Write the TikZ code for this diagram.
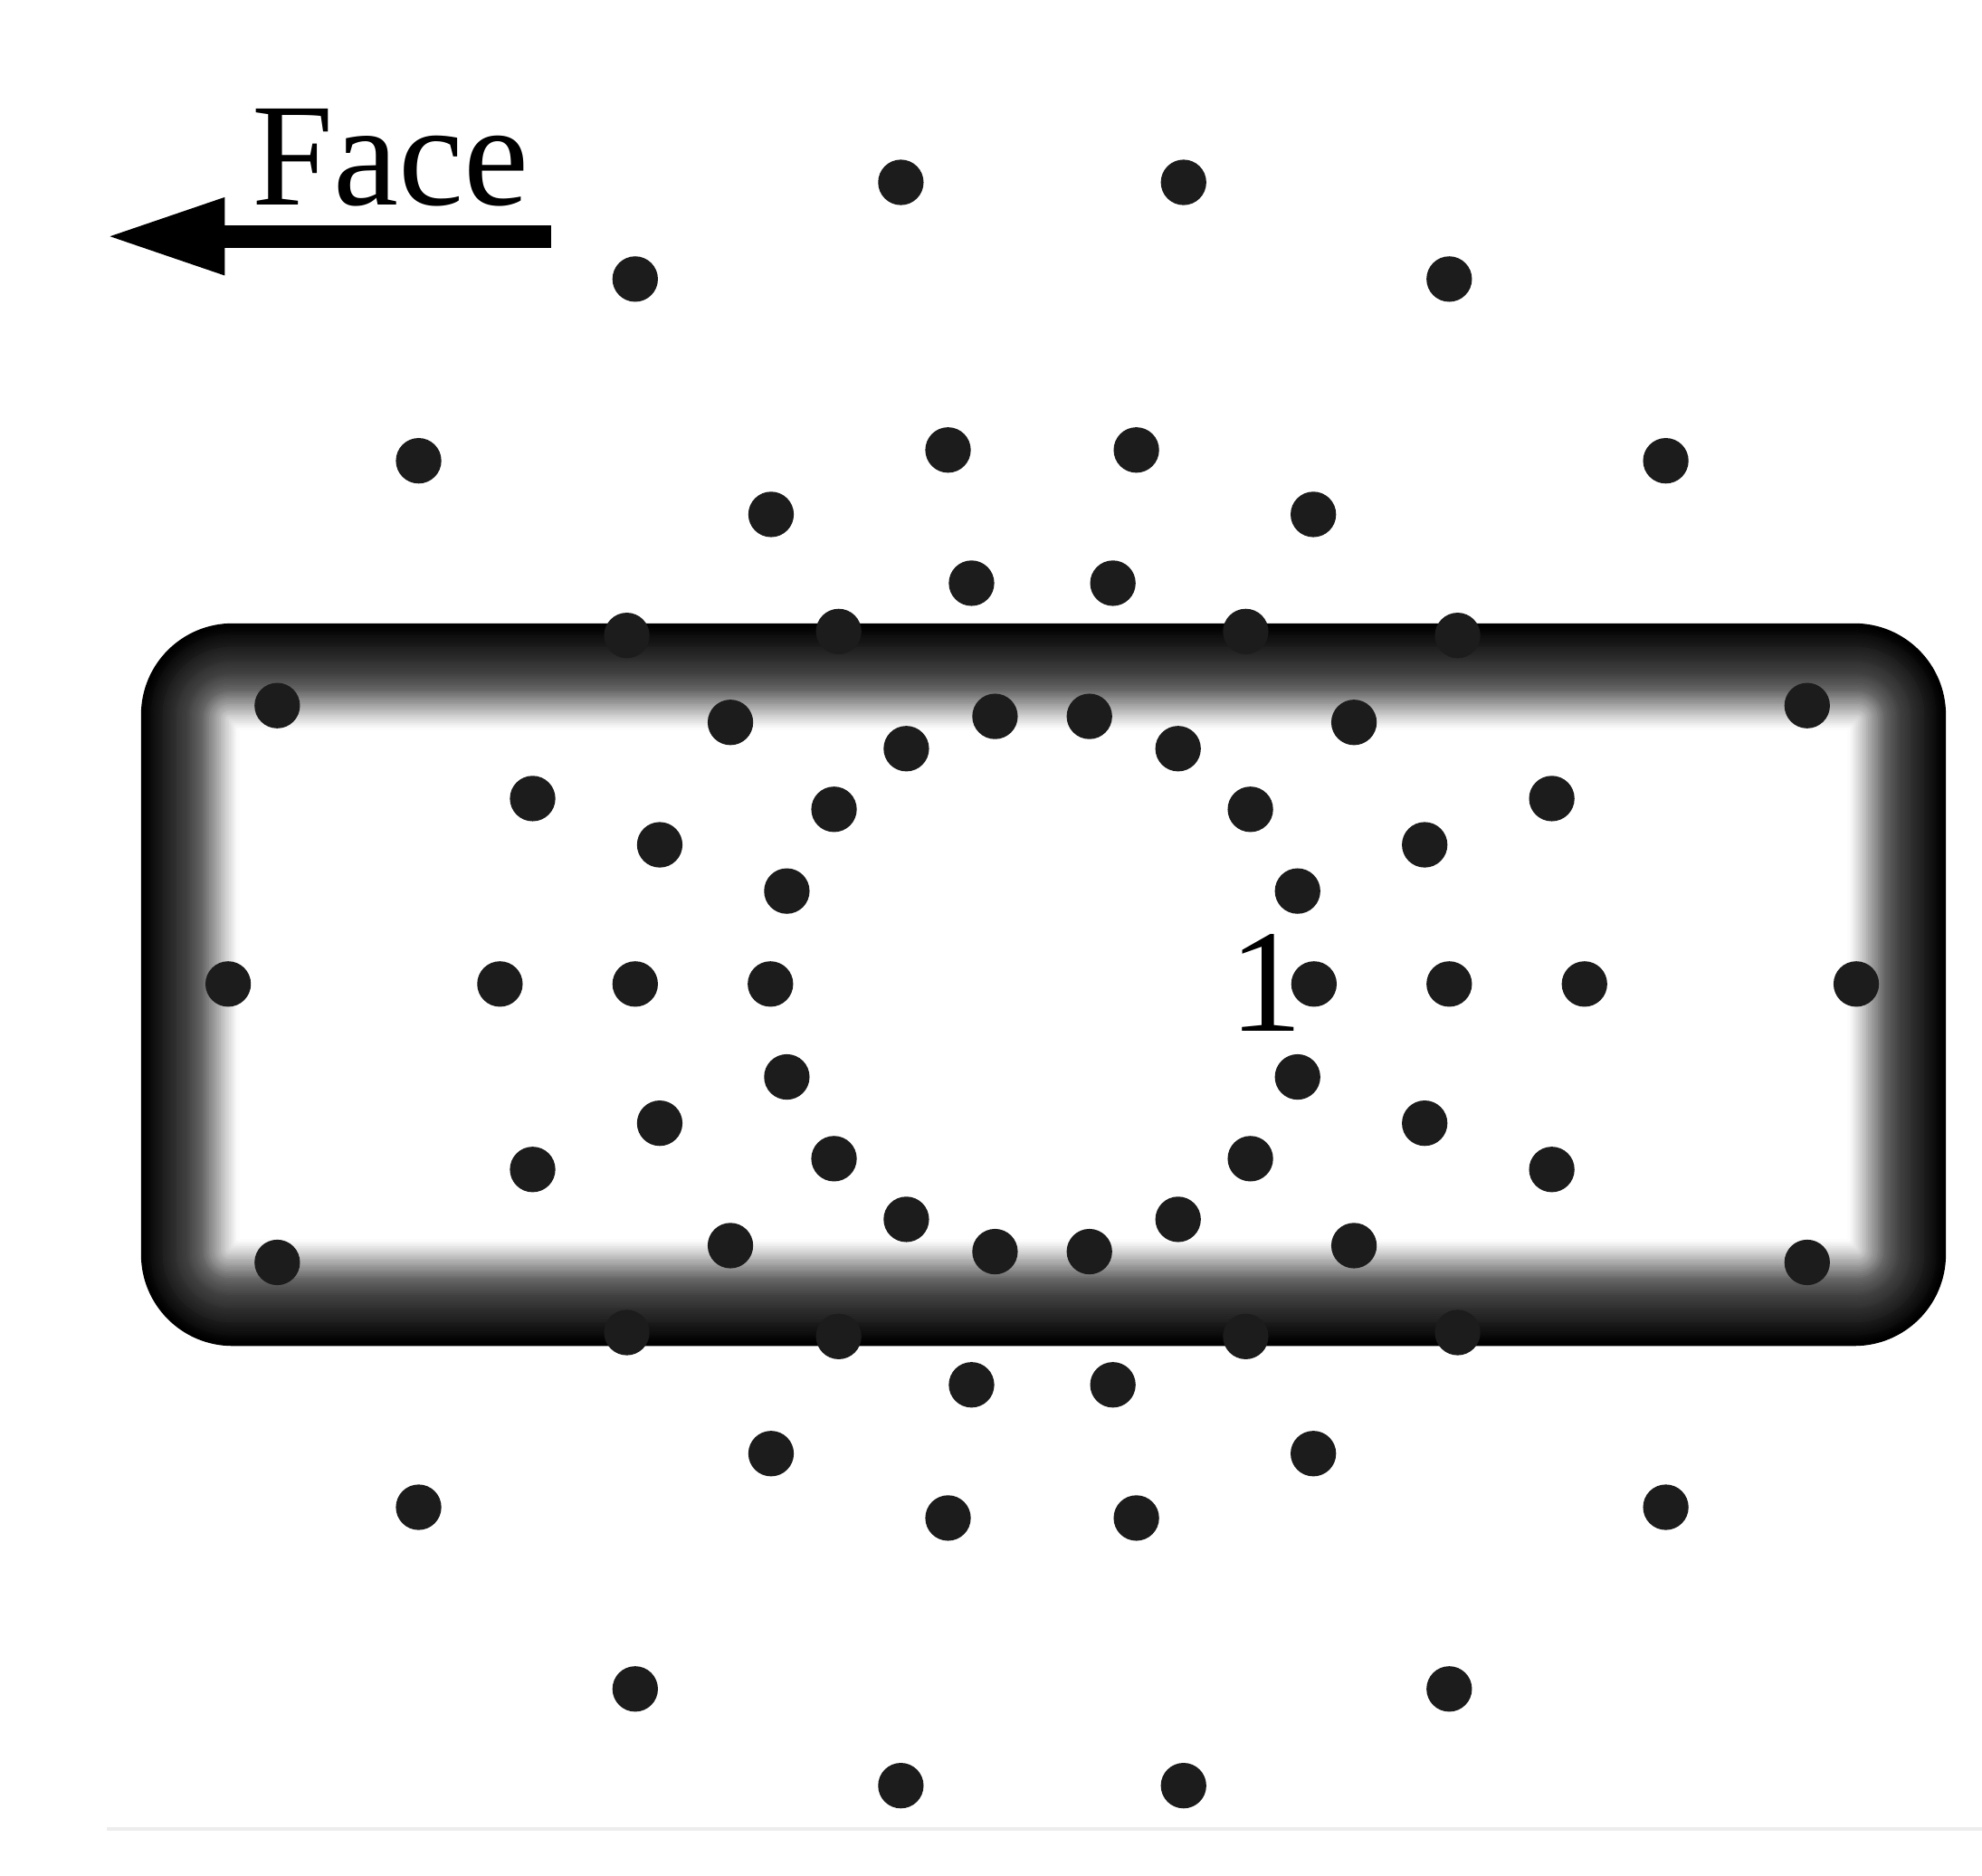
\documentclass[tikz,border=0pt]{standalone}
\usepackage{fontspec}
\setmainfont{Liberation Serif}
\usetikzlibrary{calc}
\definecolor{dotgray}{HTML}{1C1C1C}
\definecolor{faintgray}{HTML}{EDEDED}
\tikzset{
  holedot/.style={circle, fill=dotgray, minimum size=36pt, inner sep=0pt, outer sep=0pt},
  bigtext/.style={inner sep=0pt, font=\fontsize{116}{130}\selectfont},
}
\begin{document}
\begin{tikzpicture}[x=1pt,y=-1pt]
\useasboundingbox (0,0) rectangle (1568,1484);
% faint base line
\coordinate (bl1) at (84.5,1447);
\coordinate (bl2) at (1568,1447);
\draw[draw=faintgray, line width=2.5pt] (bl1) -- (bl2);
% roadway outline with gradient border
\foreach \k in {0,...,49}{
  \pgfmathsetmacro\bordT{(\k+0.5)/50}
  \pgfmathsetmacro\bordX{\bordT*77}
  \pgfmathsetmacro\bordY{\bordT*84}
  \pgfmathsetmacro\bordL{\bordT<0.04 ? 0 : (\bordT<0.47 ? 0.53*(\bordT-0.04)/0.43*0.47 : (\bordT<0.62 ? 0.25+0.87*(\bordT-0.47) : (\bordT<0.9 ? 0.38+1.68*(\bordT-0.62) : 0.85+1.5*(\bordT-0.9))))}
  \pgfmathtruncatemacro\bordG{100*(1-\bordL)}
  \pgfmathsetmacro\bordR{max(72-0.95*\bordY,0.5)}
  \draw[draw=black!\bordG, line width=2.4pt, rounded corners=\bordR pt]
    (112+\bordX,493.5+\bordY) rectangle (1539-\bordX,1064.5-\bordY);
}
% blast holes
\coordinate (c) at (824.5,778.5);
\foreach \r [count=\j] in {215,322,429,644}{
  \foreach \a [count=\i] in {0,20,...,340}{
    \node[holedot] (h\j-\i) at ($(c)+(\a:\r)$) {};
  }
}
% label
\node[bigtext, anchor=base] (lbl) at (1002,815.5) {1};
% face arrow
\node[bigtext, anchor=base west] (face) at (199,162.5) {Face};
\coordinate (arrstart) at (436,187);
\coordinate (arrbase) at (177.8,187);
\coordinate (arrtip) at (87,187);
\draw[line width=18pt] (arrstart) -- ([xshift=-2pt]arrbase);
\fill (arrtip) -- ([yshift=-31pt]arrbase) -- ([yshift=31pt]arrbase) -- cycle;
\end{tikzpicture}
\end{document}
